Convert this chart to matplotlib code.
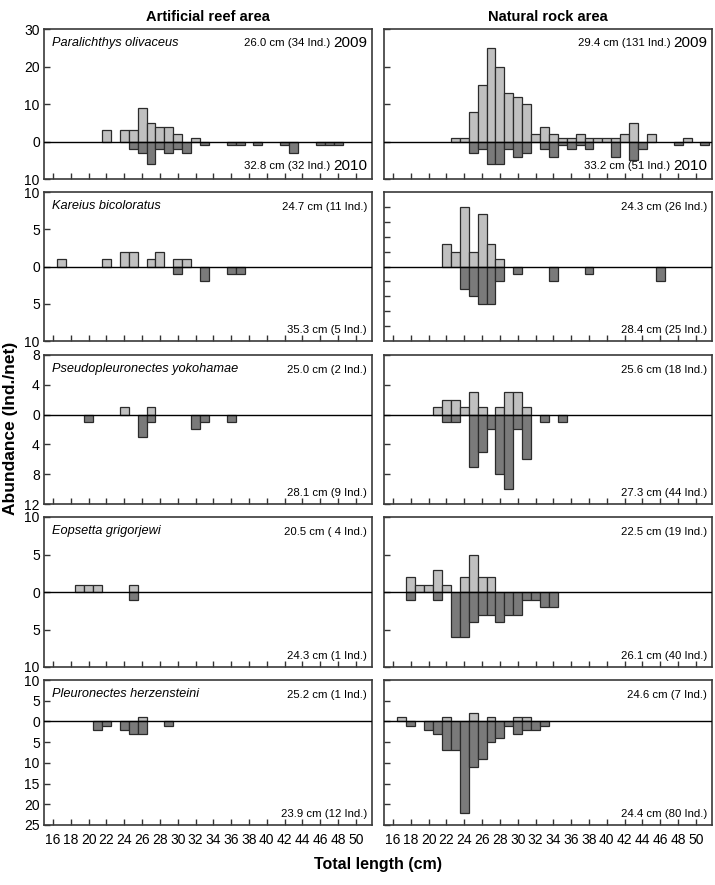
import matplotlib
matplotlib.use('Agg')
import matplotlib.pyplot as plt
from matplotlib.ticker import FuncFormatter

plt.rcParams['font.family'] = ['Liberation Sans', 'DejaVu Sans']

species = ['Paralichthys olivaceus', 'Kareius bicoloratus', 'Pseudopleuronectes yokohamae',
           'Eopsetta grigorjewi', 'Pleuronectes herzensteini']
areas = ['Artificial reef area', 'Natural rock area']

# length class (cm) -> abundance, 2009 plotted up, 2010 plotted down
olivaceus_reef_2009 = {22: 3, 24: 3, 25: 3, 26: 9, 27: 5, 28: 4, 29: 4, 30: 2, 32: 1}
olivaceus_reef_2010 = {25: 2, 26: 3, 27: 6, 28: 2, 29: 3, 30: 2, 31: 3, 33: 1, 36: 1, 37: 1,
                       39: 1, 42: 1, 43: 3, 46: 1, 47: 1, 48: 1}
olivaceus_rock_2009 = {23: 1, 24: 1, 25: 8, 26: 15, 27: 25, 28: 20, 29: 13, 30: 12, 31: 10, 32: 2,
                       33: 4, 34: 2, 35: 1, 36: 1, 37: 2, 38: 1, 39: 1, 40: 1, 41: 1, 42: 2,
                       43: 5, 45: 2, 49: 1}
olivaceus_rock_2010 = {25: 3, 26: 2, 27: 6, 28: 6, 29: 2, 30: 4, 31: 3, 33: 2, 34: 4, 35: 1,
                       36: 2, 37: 1, 38: 2, 41: 4, 43: 5, 44: 2, 48: 1, 51: 1}

bicoloratus_reef_2009 = {17: 1, 22: 1, 24: 2, 25: 2, 27: 1, 28: 2, 30: 1, 31: 1}
bicoloratus_reef_2010 = {30: 1, 33: 2, 36: 1, 37: 1}
bicoloratus_rock_2009 = {22: 3, 23: 2, 24: 8, 25: 2, 26: 7, 27: 3, 28: 1}
bicoloratus_rock_2010 = {24: 3, 25: 4, 26: 5, 27: 5, 28: 2, 30: 1, 34: 2, 38: 1, 46: 2}

yokohamae_reef_2009 = {24: 1, 27: 1}
yokohamae_reef_2010 = {20: 1, 26: 3, 27: 1, 32: 2, 33: 1, 36: 1}
yokohamae_rock_2009 = {21: 1, 22: 2, 23: 2, 24: 1, 25: 3, 26: 1, 28: 1, 29: 3, 30: 3, 31: 1}
yokohamae_rock_2010 = {22: 1, 23: 1, 25: 7, 26: 5, 27: 2, 28: 8, 29: 10, 30: 2, 31: 6, 33: 1, 35: 1}

grigorjewi_reef_2009 = {19: 1, 20: 1, 21: 1, 25: 1}
grigorjewi_reef_2010 = {25: 1}
grigorjewi_rock_2009 = {18: 2, 19: 1, 20: 1, 21: 3, 22: 1, 24: 2, 25: 5, 26: 2, 27: 2}
grigorjewi_rock_2010 = {18: 1, 21: 1, 23: 6, 24: 6, 25: 4, 26: 3, 27: 3, 28: 4, 29: 3, 30: 3,
                        31: 1, 32: 1, 33: 2, 34: 2}

herzensteini_reef_2009 = {26: 1}
herzensteini_reef_2010 = {21: 2, 22: 1, 24: 2, 25: 3, 26: 3, 29: 1}
herzensteini_rock_2009 = {17: 1, 22: 1, 25: 2, 27: 1, 30: 1, 31: 1}
herzensteini_rock_2010 = {18: 1, 20: 2, 21: 3, 22: 7, 23: 7, 24: 22, 25: 11, 26: 9, 27: 5, 28: 4,
                          29: 1, 30: 3, 31: 2, 32: 2, 33: 1}

reef_2009 = [olivaceus_reef_2009, bicoloratus_reef_2009, yokohamae_reef_2009,
             grigorjewi_reef_2009, herzensteini_reef_2009]
reef_2010 = [olivaceus_reef_2010, bicoloratus_reef_2010, yokohamae_reef_2010,
             grigorjewi_reef_2010, herzensteini_reef_2010]
rock_2009 = [olivaceus_rock_2009, bicoloratus_rock_2009, yokohamae_rock_2009,
             grigorjewi_rock_2009, herzensteini_rock_2009]
rock_2010 = [olivaceus_rock_2010, bicoloratus_rock_2010, yokohamae_rock_2010,
             grigorjewi_rock_2010, herzensteini_rock_2010]

reef_mean_2009 = ['26.0 cm (34 Ind.)', '24.7 cm (11 Ind.)', '25.0 cm (2 Ind.)',
                  '20.5 cm ( 4 Ind.)', '25.2 cm (1 Ind.)']
reef_mean_2010 = ['32.8 cm (32 Ind.)', '35.3 cm (5 Ind.)', '28.1 cm (9 Ind.)',
                  '24.3 cm (1 Ind.)', '23.9 cm (12 Ind.)']
rock_mean_2009 = ['29.4 cm (131 Ind.)', '24.3 cm (26 Ind.)', '25.6 cm (18 Ind.)',
                  '22.5 cm (19 Ind.)', '24.6 cm (7 Ind.)']
rock_mean_2010 = ['33.2 cm (51 Ind.)', '28.4 cm (25 Ind.)', '27.3 cm (44 Ind.)',
                  '26.1 cm (40 Ind.)', '24.4 cm (80 Ind.)']

ylims = [(-10, 30), (-10, 10), (-12, 8), (-10, 10), (-25, 10)]
yticks_reef = [[-10, 0, 10, 20, 30], [-10, -5, 0, 5, 10], [-12, -8, -4, 0, 4, 8],
               [-10, -5, 0, 5, 10], [-25, -20, -15, -10, -5, 0, 5, 10]]
yticks_rock = [[-10, 0, 10, 20, 30], [-8, -6, -4, -2, 0, 2, 4, 6, 8], [-12, -8, -4, 0, 4, 8],
               [-10, -5, 0, 5, 10], [-25, -20, -15, -10, -5, 0, 5, 10]]
xticks = list(range(16, 51, 2))

light = '#c0c0c0'
dark = '#7a7a7a'
edge = '#2b2b2b'

W, H = 715, 885
fig = plt.figure(figsize=(W / 100, H / 100), dpi=100)

row_top = [29, 192, 355, 517, 680]
row_bot = [179, 341, 504, 667, 825]
col_left = [44, 384]
col_width = 328

absfmt = FuncFormatter(lambda v, p: '%d' % abs(v))

for r in range(5):
    for c in range(2):
        ax = fig.add_axes([col_left[c] / W, 1 - row_bot[r] / H, col_width / W,
                           (row_bot[r] - row_top[r]) / H])
        up = (reef_2009 if c == 0 else rock_2009)[r]
        down = (reef_2010 if c == 0 else rock_2010)[r]
        ax.bar(list(up.keys()), list(up.values()), width=1, color=light,
               edgecolor=edge, linewidth=0.9, zorder=2)
        ax.bar(list(down.keys()), [-v for v in down.values()], width=1, color=dark,
               edgecolor=edge, linewidth=0.9, zorder=3)
        ax.axhline(0, color='black', lw=1.0, zorder=4)
        ax.set_xlim(15, 51.8)
        ax.set_ylim(*ylims[r])
        ax.set_xticks(xticks)
        ax.set_yticks(yticks_reef[r] if c == 0 else yticks_rock[r])
        ax.yaxis.set_major_formatter(absfmt)
        ax.tick_params(direction='in', length=4, width=1, colors='#333333',
                       labelsize=10, labelcolor='black', pad=3)
        ax.tick_params(axis='x', pad=6)
        if r < 4:
            ax.tick_params(axis='x', labelbottom=False)
        if c == 1:
            ax.tick_params(axis='y', labelleft=False)
        for s in ax.spines.values():
            s.set_linewidth(1.2)
            s.set_color('#3a3a3a')

        m09 = (reef_mean_2009 if c == 0 else rock_mean_2009)[r]
        m10 = (reef_mean_2010 if c == 0 else rock_mean_2010)[r]
        if c == 0:
            ax.text(0.025, 0.905, species[r], transform=ax.transAxes, style='italic',
                    fontsize=9.2, ha='left', va='center')
        if r == 0:
            y09 = ax.text(0.985, 0.905, '2009', transform=ax.transAxes, fontsize=11,
                          ha='right', va='center')
            y10 = ax.text(0.985, 0.09, '2010', transform=ax.transAxes, fontsize=11,
                          ha='right', va='center')
            ax.annotate(m09, xy=(0, 0.5), xycoords=y09, xytext=(-2, 0),
                        textcoords='offset points', fontsize=8.2, ha='right', va='center')
            ax.annotate(m10, xy=(0, 0.5), xycoords=y10, xytext=(-2, 0),
                        textcoords='offset points', fontsize=8.2, ha='right', va='center')
        else:
            ax.text(0.985, 0.9, m09, transform=ax.transAxes, fontsize=8.2,
                    ha='right', va='center')
            ax.text(0.985, 0.075, m10, transform=ax.transAxes, fontsize=8.2,
                    ha='right', va='center')
        if r == 0:
            ax.set_title(areas[c], fontsize=10.5, fontweight='bold', pad=6)

fig.text(11 / W, 1 - 428 / H, 'Abundance (Ind./net)', rotation=90, fontsize=12.5,
         fontweight='bold', ha='center', va='center')
fig.text(378 / W, 1 - 864 / H, 'Total length (cm)', fontsize=11.5, fontweight='bold',
         ha='center', va='center')

fig.savefig('out.png', dpi=100)
